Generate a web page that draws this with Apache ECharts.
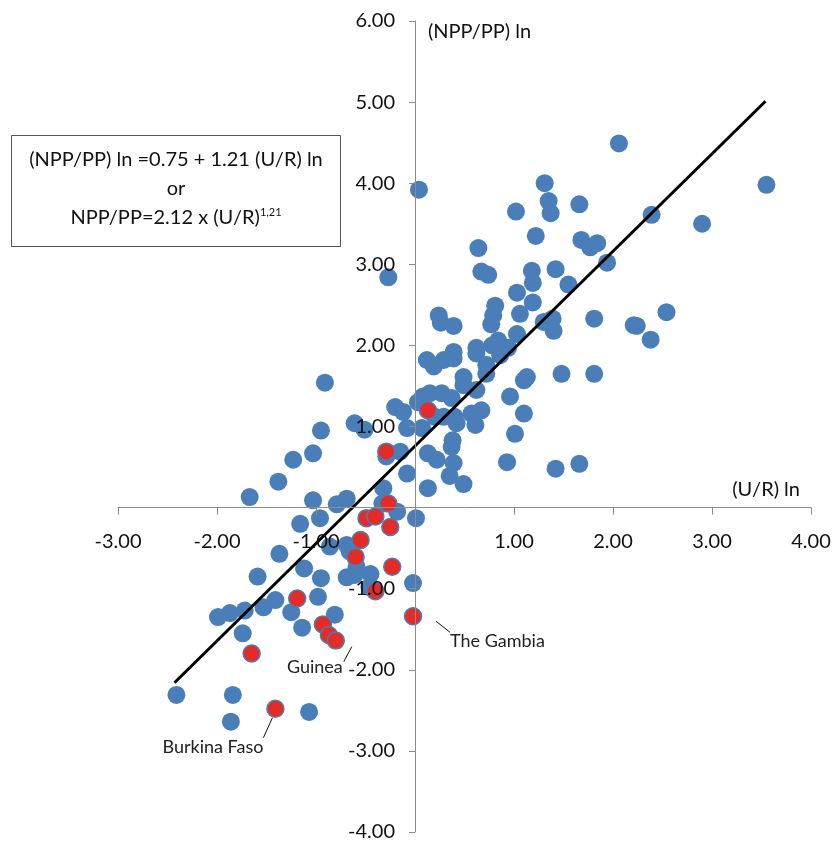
<!DOCTYPE html>
<html>
<head>
<meta charset="utf-8">
<script src="https://cdn.jsdelivr.net/npm/echarts@6/dist/echarts.min.js"></script>
<style>
  html, body { margin: 0; background: #fff; }
  #chart { width: 835px; height: 841px; }
</style>
</head>
<body>
<div id="chart"></div>
<script>
///////////////////////////////////////////////////
// Data: [(U/R) ln, (NPP/PP) ln]
///////////////////////////////////////////////////
const bluePoints = [
  [0.04, 3.92], [2.06, 4.49], [3.55, 3.98], [1.31, 4.00], [1.35, 3.78], [1.37, 3.63],
  [1.02, 3.65], [1.66, 3.74], [2.39, 3.61], [2.90, 3.50], [1.22, 3.35], [0.64, 3.20],
  [1.68, 3.30], [1.77, 3.21], [1.84, 3.26], [1.94, 3.02], [0.67, 2.91], [0.74, 2.87],
  [1.18, 2.92], [1.19, 2.77], [1.42, 2.94], [1.55, 2.75], [1.03, 2.65], [1.19, 2.53],
  [0.81, 2.49], [0.79, 2.37], [0.77, 2.26], [1.06, 2.39], [0.24, 2.37], [0.26, 2.28],
  [0.39, 2.24], [1.30, 2.29], [1.39, 2.33], [1.40, 2.18], [1.81, 2.33], [2.54, 2.41],
  [2.21, 2.25], [2.24, 2.24], [2.38, 2.07], [1.03, 2.14], [0.84, 2.06], [0.78, 2.00],
  [0.62, 1.97], [0.62, 1.90], [0.86, 1.88], [0.94, 1.97], [0.72, 1.76], [0.72, 1.65],
  [0.12, 1.82], [0.19, 1.74], [0.29, 1.82], [0.39, 1.84], [0.39, 1.92], [0.49, 1.61],
  [0.49, 1.51], [0.62, 1.45], [1.13, 1.61], [1.10, 1.57], [1.48, 1.65], [1.81, 1.65],
  [0.96, 1.37], [1.10, 1.16], [1.01, 0.91], [0.93, 0.56], [1.42, 0.48], [1.66, 0.54],
  [-0.91, 1.54], [0.08, 1.37], [0.15, 1.41], [0.27, 1.41], [0.37, 1.35], [0.03, 1.30],
  [0.67, 1.20], [0.57, 1.16], [0.61, 1.02], [0.40, 1.12], [0.42, 1.04], [0.29, 1.12],
  [0.07, 0.98], [0.20, 1.12], [-0.20, 1.24], [-0.12, 1.18], [-0.08, 0.98], [-0.61, 1.04],
  [-0.51, 0.96], [-0.95, 0.95], [-1.03, 0.67], [-0.29, 0.63], [-0.15, 0.69], [-0.08, 0.42],
  [0.13, 0.67], [0.22, 0.59], [0.38, 0.83], [0.37, 0.75], [0.39, 0.55], [0.35, 0.39],
  [0.49, 0.29], [0.13, 0.24], [-0.32, 0.24], [-1.03, 0.09], [-0.79, 0.04], [-0.69, 0.11],
  [-0.27, 2.84], [-1.23, 0.59], [-1.38, 0.32], [-1.67, 0.13], [-0.33, 0.05], [-0.18, -0.05],
  [-0.96, -0.13], [-1.16, -0.20], [-1.37, -0.57], [-1.59, -0.85], [-1.12, -0.75], [-0.95, -0.87],
  [-0.86, -0.48], [-0.69, -0.46], [-0.66, -0.54], [-0.59, -0.73], [-0.69, -0.86], [-0.61, -0.83],
  [-0.45, -0.82], [-0.46, -0.98], [-0.02, -0.93], [0.01, -0.13], [-1.41, -1.14], [-1.53, -1.23],
  [-1.72, -1.27], [-1.87, -1.30], [-1.99, -1.35], [-1.25, -1.29], [-0.98, -1.10], [-1.14, -1.48],
  [-1.74, -1.55], [-0.81, -1.32], [-2.41, -2.31], [-1.84, -2.31], [-1.86, -2.64], [-1.07, -2.52]
];

const redPoints = [
  [0.13, 1.20], [-0.29, 0.69], [-0.27, 0.05], [-0.49, -0.13], [-0.40, -0.11], [-0.25, -0.24],
  [-0.55, -0.40], [-0.60, -0.61], [-0.23, -0.73], [-0.40, -1.03], [-0.02, -1.34], [-1.19, -1.12],
  [-0.93, -1.44], [-0.87, -1.57], [-0.80, -1.64], [-1.65, -1.80], [-1.41, -2.48]
];

// Fitted line end points as drawn
const trendLine = [[-2.43, -2.16], [3.54, 5.01]];

// Country names and which red point they belong to
const countryNames = ['The Gambia', 'Guinea', 'Burkina Faso'];
const countryPoints = [[-0.02, -1.34], [-0.80, -1.64], [-1.41, -2.48]];

const xName = '(U/R) ln';
const yName = '(NPP/PP) ln';

const xMin = -3, xMax = 4;
const yMin = -4, yMax = 6;

///////////////////////////////////////////////////
// Chart
///////////////////////////////////////////////////
const FONT = 'Lato';
const BLUE = '#4a7eb9';
const RED = '#e42b26';
const AXIS = '#8c8c8c';

const W = 835, H = 841;
const gridBox = { left: 118, right: 24, top: 21, bottom: 9 };
const gridW = W - gridBox.left - gridBox.right;
const gridH = H - gridBox.top - gridBox.bottom;

// axes cross at the origin: shift them in from the grid edge
const yAxisOffset = -((0 - xMin) / (xMax - xMin)) * gridW;
const xAxisOffset = -((0 - yMin) / (yMax - yMin)) * gridH;

const chart = echarts.init(document.getElementById('chart'), null, { renderer: 'canvas' });

const tickFmt = v => (v === 0 ? '' : v.toFixed(2));

chart.setOption({
  animation: false,
  backgroundColor: '#fff',
  grid: Object.assign({ outerBoundsMode: 'none', containLabel: false }, gridBox),
  xAxis: {
    type: 'value', min: xMin, max: xMax, interval: 1,
    position: 'bottom', offset: xAxisOffset, z: 10,
    splitLine: { show: false },
    axisLine: { onZero: false, lineStyle: { color: AXIS, width: 1 } },
    axisTick: { length: 7, lineStyle: { color: AXIS } },
    axisLabel: { formatter: tickFmt, margin: 24, fontFamily: FONT, fontSize: 20, color: '#111' }
  },
  yAxis: {
    type: 'value', min: yMin, max: yMax, interval: 1,
    position: 'left', offset: yAxisOffset, z: 10,
    splitLine: { show: false },
    axisLine: { onZero: false, lineStyle: { color: AXIS, width: 1 } },
    axisTick: { length: 6, lineStyle: { color: AXIS } },
    axisLabel: { formatter: tickFmt, margin: 20, fontFamily: FONT, fontSize: 20, color: '#111' }
  },
  series: [
    {
      type: 'scatter', data: bluePoints, symbolSize: 18,
      itemStyle: { color: BLUE, opacity: 1 }, z: 2
    },
    {
      type: 'scatter', data: redPoints, symbolSize: 17,
      itemStyle: { color: RED, borderColor: BLUE, borderWidth: 1.5, opacity: 1 }, z: 3
    },
    {
      type: 'line', data: trendLine, showSymbol: false, symbol: 'none',
      lineStyle: { color: '#000', width: 3 }, z: 4
    }
  ]
});

// Annotations: equation box, axis names, country labels
const graphics = [
  {
    type: 'rect', shape: { x: 11.5, y: 135.5, width: 329, height: 111 },
    style: { fill: '#fff', stroke: '#555', lineWidth: 1 }, z: 10
  },
  {
    type: 'text', x: 176, y: 160, z: 11,
    style: { text: '(NPP/PP) ln =0.75 + 1.21 (U/R) ln', font: '20px ' + FONT, fill: '#111', align: 'center', verticalAlign: 'middle' }
  },
  {
    type: 'text', x: 176, y: 189, z: 11,
    style: { text: 'or', font: '20px ' + FONT, fill: '#111', align: 'center', verticalAlign: 'middle' }
  },
  {
    type: 'text', x: 176, y: 218, z: 11,
    style: {
      text: 'NPP/PP=2.12 x (U/R){sup|1,21}', font: '20px ' + FONT, fill: '#111',
      align: 'center', verticalAlign: 'middle',
      rich: { sup: { fontSize: 11, fontFamily: FONT, padding: [0, 0, 12, 0] } }
    }
  },
  {
    type: 'text', x: 428, y: 32, z: 11,
    style: { text: yName, font: '20px ' + FONT, fill: '#111', align: 'left', verticalAlign: 'middle' }
  },
  {
    type: 'text', x: 800, y: 490, z: 11,
    style: { text: xName, font: '20px ' + FONT, fill: '#111', align: 'right', verticalAlign: 'middle' }
  }
];

// label offsets relative to each labelled point
const labelOffsets = [
  { from: [23, 5], to: [37, 16], text: [37, 25], align: 'left' },
  { from: [8, 21], to: [16, 6], text: [7, 27], align: 'right' },
  { from: [-12, 29], to: [-3, 9], text: [-12, 38], align: 'right' }
];

countryPoints.forEach((pt, i) => {
  const p = chart.convertToPixel({ gridIndex: 0 }, pt);
  const o = labelOffsets[i];
  graphics.push({
    type: 'line', z: 11,
    shape: { x1: p[0] + o.from[0], y1: p[1] + o.from[1], x2: p[0] + o.to[0], y2: p[1] + o.to[1] },
    style: { stroke: '#111', lineWidth: 1 }
  });
  graphics.push({
    type: 'text', z: 11, x: p[0] + o.text[0], y: p[1] + o.text[1],
    style: { text: countryNames[i], font: '18px ' + FONT, fill: '#222', align: o.align, verticalAlign: 'middle' }
  });
});

chart.setOption({ graphic: graphics });
</script>
</body>
</html>
